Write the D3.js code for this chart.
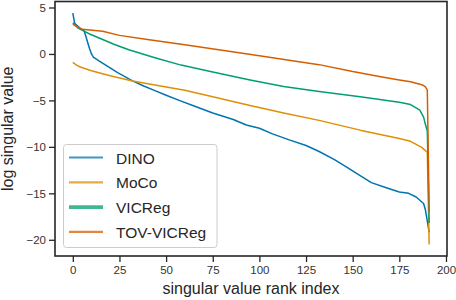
<!DOCTYPE html>
<html>
<head>
<meta charset="utf-8">
<script src="https://cdn.jsdelivr.net/npm/d3@7"></script>
<style>
  body { margin: 0; background: #fff; }
  svg { display: block; font-family: "Liberation Sans", Arial, sans-serif; }
</style>
</head>
<body>
<svg id="chart" width="456" height="300"></svg>
<script>
// Series names and colours (seaborn colorblind palette)
const seriesNames = ["DINO", "MoCo", "VICReg", "TOV-VICReg"];
const seriesColors = ["#0173b2", "#de8f05", "#029e73", "#d55e00"];

// Values: rank index -> log singular value
const dinoRank = [0, 1, 2, 4, 6, 7, 8, 9, 10, 11, 14, 20, 24, 32, 38, 44, 50, 57, 65, 75, 86, 93, 100, 107, 116, 125, 132, 140, 147, 154, 160, 168, 175, 180, 184, 186, 188, 189, 190, 191];
const dinoVals = [4.4, 3.3, 3.1, 2.75, 2.5, 1.9, 1.2, 0.55, 0.0, -0.35, -0.75, -1.5, -2.0, -2.9, -3.45, -3.95, -4.45, -5.0, -5.6, -6.35, -7.05, -7.65, -8.0, -8.6, -9.25, -9.85, -10.5, -11.35, -12.2, -13.1, -13.85, -14.4, -14.85, -15.0, -15.4, -15.75, -16.1, -16.8, -18.0, -19.2];

const mocoRank = [0, 2, 4, 10, 20, 32, 44, 60, 75, 95, 113, 132, 154, 175, 181, 187, 189, 190, 191];
const mocoVals = [-0.9, -1.2, -1.4, -1.8, -2.35, -2.9, -3.35, -3.9, -4.6, -5.55, -6.35, -7.15, -8.2, -9.1, -9.4, -10.05, -10.4, -10.6, -20.5];

const vicregRank = [0, 3, 6, 9, 16, 22, 30, 44, 58, 75, 95, 113, 132, 154, 175, 181, 186, 188, 189, 190, 191];
const vicregVals = [3.35, 2.75, 2.45, 2.15, 1.55, 1.05, 0.45, -0.4, -1.2, -1.95, -2.8, -3.5, -4.05, -4.6, -5.2, -5.45, -6.05, -6.8, -7.6, -8.3, -18.2];

const tovRank = [0, 5, 16, 25, 40, 60, 80, 100, 115, 132, 150, 165, 175, 181, 186, 188, 189, 190, 191];
const tovVals = [3.2, 2.65, 2.45, 2.0, 1.55, 1.0, 0.4, -0.2, -0.65, -1.15, -1.9, -2.45, -2.8, -3.0, -3.25, -3.4, -3.55, -3.9, -17.0];

const xTicks = [0, 25, 50, 75, 100, 125, 150, 175, 200];
const yTicks = [5, 0, -5, -10, -15, -20];

const series = [
  { name: seriesNames[0], color: seriesColors[0], rank: dinoRank, vals: dinoVals, legendWidth: 2.2 },
  { name: seriesNames[1], color: seriesColors[1], rank: mocoRank, vals: mocoVals, legendWidth: 2.2 },
  { name: seriesNames[2], color: seriesColors[2], rank: vicregRank, vals: vicregVals, legendWidth: 3.6 },
  { name: seriesNames[3], color: seriesColors[3], rank: tovRank, vals: tovVals, legendWidth: 2.2 }
];

// Plot box
const box = { left: 55, right: 447, top: 1.5, bottom: 256 };
const svg = d3.select("#chart");

// matplotlib-like 5% margins around the data
let allX = series.flatMap(s => s.rank),
    allY = series.flatMap(s => s.vals);
let xMin = d3.min(allX), xMax = d3.max(allX),
    yMin = d3.min(allY), yMax = d3.max(allY);
let xPad = (xMax - xMin) * 0.05, yPad = (yMax - yMin) * 0.05;

let x = d3.scaleLinear().domain([xMin - xPad, xMax + xPad]).range([box.left, box.right]);
let y = d3.scaleLinear().domain([yMin - yPad, yMax + yPad]).range([box.bottom, box.top]);

// Axes
let xAxis = svg.append("g")
    .attr("transform", "translate(0," + box.bottom + ")")
    .call(d3.axisBottom(x).tickValues(xTicks).tickSize(6).tickPadding(4).tickFormat(d3.format("d")));
let yAxis = svg.append("g")
    .attr("transform", "translate(" + box.left + ",0)")
    .call(d3.axisLeft(y).tickValues(yTicks).tickSize(6).tickPadding(3)
      .tickFormat(d => d < 0 ? "\u2212" + Math.abs(d) : d));

[xAxis, yAxis].forEach(function(ax) {
  ax.select(".domain").remove();
  ax.selectAll(".tick line").attr("stroke", "#262626").attr("stroke-width", 1.3);
  ax.selectAll(".tick text").attr("fill", "#333").style("font-size", "11.5px")
    .style("font-family", "'Liberation Sans', Arial, sans-serif");
});

// Lines
let line = d3.line()
  .x(d => x(d[0]))
  .y(d => y(d[1]));

series.forEach(function(s) {
  svg.append("path")
      .datum(s.rank.map((r, i) => [r, s.vals[i]]))
      .attr("fill", "none")
      .attr("stroke", s.color)
      .attr("stroke-width", 1.5)
      .attr("stroke-linejoin", "round")
      .attr("d", line);
});

// Frame (all four spines)
svg.append("rect")
    .attr("x", box.left)
    .attr("y", box.top)
    .attr("width", box.right - box.left)
    .attr("height", box.bottom - box.top)
    .attr("fill", "none")
    .attr("stroke", "#262626")
    .attr("stroke-width", 1.6);

// Legend
let legend = svg.append("g");
legend.append("rect")
    .attr("x", 63.5).attr("y", 144.5)
    .attr("width", 153.5).attr("height", 103)
    .attr("rx", 3)
    .attr("fill", "#fff").attr("fill-opacity", 0.8)
    .attr("stroke", "#cccccc").attr("stroke-width", 1);

series.forEach(function(s, i) {
  let cy = 157.5 + i * 24.8;
  legend.append("line")
      .attr("x1", 69).attr("x2", 103)
      .attr("y1", cy).attr("y2", cy)
      .attr("stroke", s.color)
      .attr("stroke-opacity", 0.75)
      .attr("stroke-width", s.legendWidth);
  legend.append("text")
      .attr("x", 116).attr("y", cy + 6)
      .attr("fill", "#262626")
      .style("font-size", "15.5px")
      .text(s.name);
});

// Axis titles
svg.append("text")
    .attr("text-anchor", "middle")
    .attr("x", (box.left + box.right) / 2)
    .attr("y", 294)
    .attr("fill", "#262626")
    .style("font-size", "16px")
    .text("singular value rank index");

svg.append("text")
    .attr("text-anchor", "middle")
    .attr("transform", "translate(13," + (box.top + box.bottom) / 2 + ")rotate(-90)")
    .attr("fill", "#262626")
    .style("font-size", "16px")
    .text("log singular value");
</script>
</body>
</html>
